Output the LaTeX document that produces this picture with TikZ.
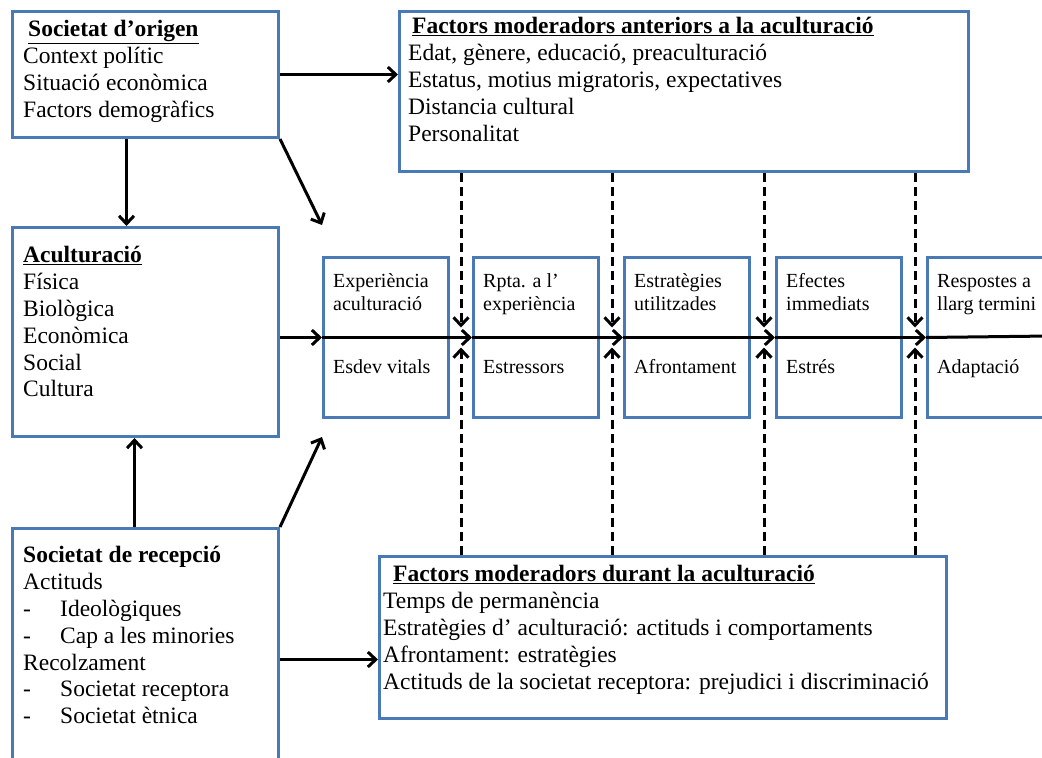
\documentclass[tikz,border=0pt]{standalone}
\usepackage{fontspec}
\setmainfont{Liberation Serif}
\usetikzlibrary{arrows.meta}
\definecolor{boxblue}{HTML}{4A7AB5}

\begin{document}
\begin{tikzpicture}[x=1pt,y=-1pt,
  bx/.style={draw=boxblue,line width=3pt,anchor=north west,inner sep=0pt},
  txt/.style={anchor=north west,inner sep=0pt,align=left,font=\fontsize{23.5}{26.8}\selectfont},
  stxt/.style={anchor=north west,inner sep=0pt,align=left,font=\fontsize{20}{22.5}\selectfont},
  arr/.style={line width=3pt,-{Straight Barb[length=8pt,width=15pt]}},
  dsh/.style={arr,dash pattern=on 9pt off 5pt}]
\useasboundingbox (0,0) rectangle (1042,758);
\clip (0,0) rectangle (1042,758);
\node[bx,minimum width=266pt,minimum height=126pt] (orig) at (11,10) {};
\node[bx,minimum width=569pt,minimum height=160pt] (fant) at (398,10) {};
\node[bx,minimum width=266pt,minimum height=209pt] (acul) at (11,226) {};
\node[bx,minimum width=266pt,minimum height=262pt] (recep) at (11,527) {};
\node[bx,minimum width=567pt,minimum height=162pt] (fdur) at (378,555) {};
\node[txt] (origt) at ([xshift=12pt,yshift=-8pt]orig.north west)
  {\strut\hspace*{5pt}\underline{\textbf{Societat d’origen}}\\Context polític\\Situació econòmica\\Factors demogràfics};
\node[txt] (fantt) at ([xshift=10pt,yshift=-5pt]fant.north west)
  {\strut\hspace*{4pt}\underline{\textbf{Factors moderadors anteriors a la aculturació}}\\Edat, gènere, educació, preaculturació\\Estatus, motius migratoris, expectatives\\Distancia cultural\\Personalitat};
\node[txt] (acult) at ([xshift=12pt,yshift=-18pt]acul.north west)
  {\strut\underline{\textbf{Aculturació}}\\Física\\Biològica\\Econòmica\\Social\\Cultura};
\node[txt] (recept) at ([xshift=12pt,yshift=-17pt]recep.north west)
  {\strut\textbf{Societat de recepció}\\Actituds\\\makebox[37pt][l]{-}Ideològiques\\\makebox[37pt][l]{-}Cap a les minories\\Recolzament\\\makebox[37pt][l]{-}Societat receptora\\\makebox[37pt][l]{-}Societat ètnica};
\node[txt] (fdurt) at ([xshift=5pt,yshift=-8pt]fdur.north west)
  {\strut\hspace*{10pt}\underline{\textbf{Factors moderadors durant la aculturació}}\\Temps de permanència\\Estratègies d’ aculturació: actituds i comportaments\\Afrontament: estratègies\\Actituds de la societat receptora: prejudici i discriminació};
\foreach \i/\x/\ta/\tb in {1/322/{Experiència\\aculturació}/{Esdev vitals},
    2/472/{Rpta. a l’\\experiència}/{Estressors},
    3/623/{Estratègies\\utilitzades}/{Afrontament},
    4/775/{Efectes\\immediats}/{Estrés},
    5/926/{Respostes a\\llarg termini}/{Adaptació}} {
  \node[bx,minimum width=125pt,minimum height=160pt] (b\i) at (\x,256) {};
  \node[stxt] (bt\i) at ([xshift=11pt,yshift=-16pt]b\i.north west) {\strut\ta};
  \node[stxt] (bu\i) at ([xshift=11pt,yshift=-102pt]b\i.north west) {\strut\tb};
}
\coordinate (rt) at (1050,336);
\draw[arr] (orig.east) -- (orig.east -| fant.west);
\draw[arr] ([xshift=-19pt]orig.south) -- ([xshift=-19pt]orig.south |- acul.north);
\draw[arr] (orig.south east) -- ([yshift=31pt]b1.north west);
\draw[arr] ([xshift=-11pt]recep.north) -- ([xshift=-11pt]recep.north |- acul.south);
\draw[arr] (recep.north east) -- ([yshift=-18pt]b1.south west);
\draw[arr] (recep.east) -- (recep.east -| fdur.west);
\draw[arr] (acul.east |- b1.west) -- (b1.west);
\foreach \a/\b in {b1/b2,b2/b3,b3/b4,b4/b5}
  \draw[arr] (\a.west) -- (\b.west);
\draw[line width=3pt] (b5.west) -- (rt);
\foreach \n in {2,...,5} {
  \coordinate (d\n) at ([xshift=-11pt]b\n.west);
  \draw[dsh] (fant.south -| d\n) -- ([yshift=10pt]d\n);
  \draw[dsh] (fdur.north -| d\n) -- ([yshift=-10pt]d\n);
}
\end{tikzpicture}
\end{document}
